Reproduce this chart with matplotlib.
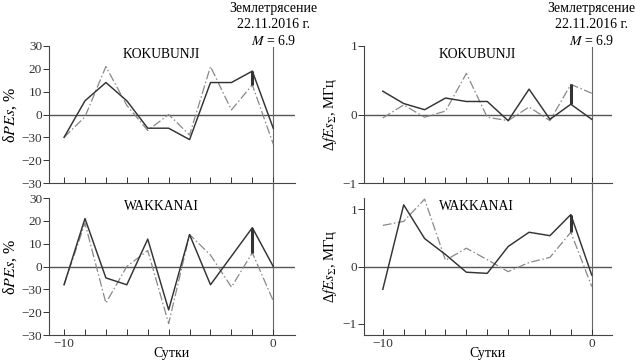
import matplotlib
matplotlib.use("Agg")
import matplotlib.pyplot as plt

plt.rcParams['font.family'] = ['Liberation Serif', 'DejaVu Serif']
plt.rcParams['mathtext.fontset'] = 'stix'

days = [-10, -9, -8, -7, -6, -5, -4, -3, -2, -1, 0]

kok_pe_solid = [-10, 6, 14, 6, -6, -6, -11, 14, 14, 19, -6]
kok_pe_dash = [-10, -1, 21, 4, -7, 0, -9, 21, 2, 13, -13]
wak_pe_solid = [-8, 21, -5, -8, 12, -19, 14, -8, 4.5, 17, 0]
wak_pe_dash = [-8, 19, -16, 0, 7, -25, 14, 5, -9, 6, -15]

kok_f_solid = [0.34, 0.16, 0.07, 0.24, 0.19, 0.19, -0.09, 0.37, -0.07, 0.15, -0.07]
kok_f_dash = [-0.05, 0.14, -0.04, 0.05, 0.60, -0.04, -0.09, 0.11, -0.09, 0.44, 0.31]
wak_f_solid = [-0.40, 1.08, 0.49, 0.21, -0.10, -0.12, 0.35, 0.60, 0.54, 0.91, -0.15]
wak_f_dash = [0.72, 0.79, 1.18, 0.11, 0.32, 0.12, -0.09, 0.07, 0.16, 0.60, -0.35]

pe_ticks = [-30, -20, -10, 0, 10, 20, 30]
pe_ticklabels = ["\u221230", "\u221220", "\u221230", "0", "10", "20", "30"]
f_ticks = [-1, 0, 1]
f_ticklabels = ["\u22121", "0", "1"]
x_ticklabels = ["\u221210", "", "", "", "", "", "", "", "", "", "0"]

stations = ["KOKUBUNJI", "WAKKANAI"]
event_text = "Землетрясение\n22.11.2016 г.\n$M$ = 6.9"
xlabel = "Сутки"
ylabel_pe = "δ$PEs$, %"
ylabel_f = "Δ$fEs_{\\Sigma}$, МГц"

fig = plt.figure(figsize=(6.35, 3.6), dpi=100)
W, H = 635, 360

def add_ax(x0, x1, ytop, ybot):
    return fig.add_axes([x0 / W, 1 - ybot / H, (x1 - x0) / W, (ybot - ytop) / H])

ax_tl = add_ax(49, 295, 46, 183)
ax_bl = add_ax(49, 295, 198, 335)
ax_tr = add_ax(364, 612, 46, 183)
ax_br = add_ax(364, 612, 198, 335)

solid_c = '#333333'
dash_c = '#888888'
dash_ls = (0, (7, 2, 1.2, 2))

panels = [
    (ax_tl, kok_pe_solid, kok_pe_dash, stations[0], (-30, 30), pe_ticks, pe_ticklabels, (-10.72, 1.04), False, ylabel_pe, 11.5, 2),
    (ax_bl, wak_pe_solid, wak_pe_dash, stations[1], (-30, 30), pe_ticks, pe_ticklabels, (-10.72, 1.04), True, ylabel_pe, 11.5, 2),
    (ax_tr, kok_f_solid, kok_f_dash, stations[0], (-1, 1), f_ticks, f_ticklabels, (-10.9, 0.97), False, ylabel_f, 10.5, 3),
    (ax_br, wak_f_solid, wak_f_dash, stations[1], (-1.2, 1.2), f_ticks, f_ticklabels, (-10.9, 0.97), True, ylabel_f, 10.5, 3),
]

for ax, s, d, name, ylim, yt, ytl, xlim, bottom, ylab, ylab_fs, ylab_pad in panels:
    ax.set_xlim(*xlim)
    ax.set_ylim(*ylim)
    ax.axhline(0, color='#555555', lw=1.0, zorder=1)
    ax.plot(days, d, color=dash_c, lw=0.9, ls=dash_ls, zorder=2)
    ax.plot(days, s, color=solid_c, lw=1.05, zorder=3)
    i = days.index(-1)
    ax.plot([days[i], days[i]], [s[i], d[i]], color=solid_c, lw=2.2, zorder=4,
            solid_capstyle='butt')
    ax.spines['top'].set_visible(False)
    ax.spines['right'].set_visible(False)
    ax.spines['left'].set_color('#444444')
    ax.spines['bottom'].set_color('#444444')
    ax.spines['left'].set_linewidth(0.8)
    ax.spines['bottom'].set_linewidth(0.8)
    ax.set_yticks(yt)
    ax.set_yticklabels(ytl)
    ax.set_xticks(days)
    if bottom:
        ax.set_xticklabels(x_ticklabels)
        ax.set_xlabel(xlabel, fontsize=10, labelpad=-2)
        ax.axvline(0, ymin=0, ymax=1.12, color='#666666', lw=0.8, clip_on=False, zorder=1)
    else:
        ax.set_xticklabels([])
        ax.axvline(0, ymin=-0.05, ymax=0.99, color='#666666', lw=0.8, clip_on=False, zorder=1)
        ax.text(0, 1.155, event_text, transform=ax.get_xaxis_transform(),
                ha='center', va='center', fontsize=10, linespacing=1.3)
    ax.tick_params(axis='x', direction='in', length=4, width=0.7, labelsize=9.5, pad=2, colors='#333333')
    ax.tick_params(axis='y', direction='out', length=4, width=0.7, labelsize=9.5, pad=1, colors='#333333')
    ax.set_ylabel(ylab, fontsize=ylab_fs, labelpad=ylab_pad)
    ax.text(0.455, 0.935, name, transform=ax.transAxes, ha='center', va='center', fontsize=9.8)

fig.savefig("out.png", dpi=100)
